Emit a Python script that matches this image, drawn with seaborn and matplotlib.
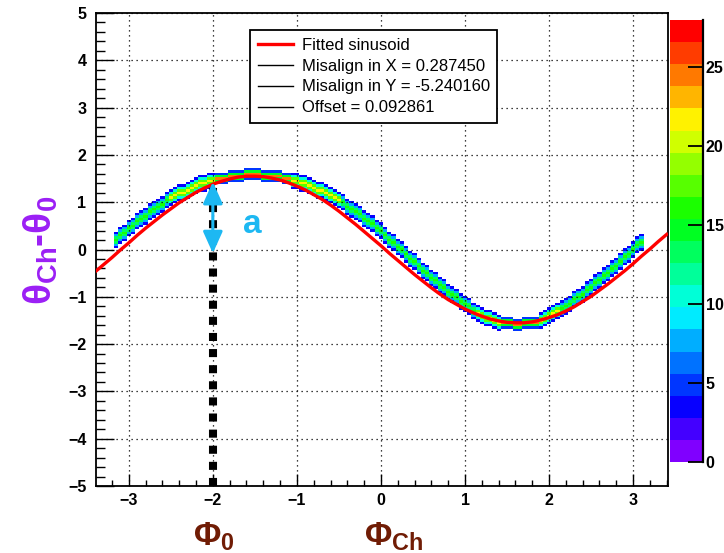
import numpy as np
import pandas as pd
import matplotlib
matplotlib.use("Agg")
import matplotlib.pyplot as plt
import seaborn as sns
from matplotlib.colors import ListedColormap, hsv_to_rgb
from matplotlib.lines import Line2D
from matplotlib.ticker import MultipleLocator

# ---------------- data ----------------
fit_x = [-3.4, -3.3, -3.2, -3.1, -3.0, -2.9, -2.8, -2.7, -2.6, -2.5, -2.4, -2.3,
         -2.2, -2.1, -2.0, -1.9, -1.8, -1.7, -1.6, -1.5, -1.4, -1.3, -1.2, -1.1,
         -1.0, -0.9, -0.8, -0.7, -0.6, -0.5, -0.4, -0.3, -0.2, -0.1, 0.0, 0.1,
         0.2, 0.3, 0.4, 0.5, 0.6, 0.7, 0.8, 0.9, 1.0, 1.1, 1.2, 1.3, 1.4, 1.5,
         1.6, 1.7, 1.8, 1.9, 2.0, 2.1, 2.2, 2.3, 2.4, 2.5, 2.6, 2.7, 2.8, 2.9,
         3.0, 3.1, 3.2, 3.3, 3.4]
fit_y = [-0.47, -0.32, -0.17, -0.01, 0.14, 0.30, 0.45, 0.59, 0.73, 0.86, 0.99, 1.10,
         1.21, 1.30, 1.38, 1.44, 1.49, 1.53, 1.55, 1.55, 1.54, 1.51, 1.47, 1.41,
         1.34, 1.26, 1.16, 1.06, 0.94, 0.81, 0.67, 0.53, 0.38, 0.23, 0.08, -0.08,
         -0.23, -0.38, -0.53, -0.67, -0.81, -0.94, -1.06, -1.16, -1.26, -1.34, -1.41, -1.47,
         -1.51, -1.54, -1.55, -1.55, -1.53, -1.49, -1.44, -1.38, -1.30, -1.21, -1.10, -0.99,
         -0.86, -0.73, -0.59, -0.45, -0.30, -0.14, 0.01, 0.17, 0.32]

# centre of the measured band, one value per 0.05-wide column starting at x = -3.15
band_start = -3.15
band_step = 0.05
band_y = [0.21, 0.29, 0.36, 0.44, 0.51, 0.59, 0.66, 0.72, 0.79, 0.85,
          0.91, 0.97, 1.03, 1.08, 1.13, 1.18, 1.22, 1.27, 1.31, 1.34,
          1.38, 1.41, 1.44, 1.46, 1.49, 1.51, 1.52, 1.54, 1.55, 1.56,
          1.57, 1.58, 1.58, 1.58, 1.58, 1.57, 1.57, 1.56, 1.54, 1.53,
          1.51, 1.49, 1.47, 1.44, 1.41, 1.38, 1.35, 1.31, 1.27, 1.23,
          1.19, 1.14, 1.09, 1.04, 0.98, 0.92, 0.86, 0.80, 0.73, 0.67,
          0.60, 0.53, 0.45, 0.38, 0.30, 0.22, 0.14, 0.06, -0.02, -0.10,
          -0.18, -0.26, -0.34, -0.43, -0.51, -0.58, -0.66, -0.74, -0.81, -0.88,
          -0.95, -1.02, -1.08, -1.14, -1.20, -1.28, -1.34, -1.39, -1.43, -1.47,
          -1.50, -1.53, -1.55, -1.56, -1.57, -1.58, -1.58, -1.57, -1.56, -1.55,
          -1.53, -1.50, -1.46, -1.42, -1.37, -1.32, -1.26, -1.19, -1.13, -1.07,
          -1.01, -0.94, -0.87, -0.80, -0.72, -0.65, -0.57, -0.49, -0.41, -0.33,
          -0.25, -0.17, -0.09, -0.01, 0.08, 0.16]
# counts across the band (0.05-high cells) where it is flat, medium and steep
profile_flat = [5, 15, 24, 15, 5]
profile_mid = [4, 10, 18, 22, 18, 10, 4]
profile_steep = [4, 8, 13, 16, 13, 8, 4]

legend_labels = ["Fitted sinusoid", "Misalign in X = 0.287450",
                 "Misalign in Y = -5.240160", "Offset = 0.092861"]
x_ticks = [-3, -2, -1, 0, 1, 2, 3]
y_ticks = [-5, -4, -3, -2, -1, 0, 1, 2, 3, 4, 5]
cbar_ticks = [0, 5, 10, 15, 20, 25]
count_max = 28
phi0 = -2.0
a_bottom = -0.08
a_top = 1.43

# ---------------- build histogram table ----------------
band_x = band_start + band_step * np.arange(len(band_y))
ybin = 0.05
slopes = np.abs(np.gradient(np.array(band_y), band_x))
rows = []
for bx, by, s in zip(band_x, band_y, slopes):
    prof = profile_flat if s < 0.5 else (profile_mid if s < 1.1 else profile_steep)
    h = len(prof) // 2
    c = int(round(by / ybin))
    for k, w in enumerate(prof):
        rows.append((bx, (c + k - h) * ybin, w))
df = pd.DataFrame(rows, columns=["phi", "theta", "w"])

xedges = band_start - band_step / 2 + band_step * np.arange(len(band_y) + 1)
yedges = -2.525 + ybin * np.arange(102)

# ---------------- style ----------------
plt.rcParams['font.family'] = ['Liberation Sans', 'DejaVu Sans']
plt.rcParams['mathtext.fontset'] = 'custom'
plt.rcParams['mathtext.rm'] = 'Liberation Sans'
plt.rcParams['mathtext.bf'] = 'Liberation Sans:bold'
plt.rcParams['mathtext.it'] = 'Liberation Sans:italic'
plt.rcParams['mathtext.sf'] = 'Liberation Sans'

hues = np.linspace(0.75, 0.0, 20)
colors = hsv_to_rgb(np.stack([hues, np.ones(20), np.ones(20)], axis=1))
cmap = ListedColormap(colors)

W, H = 724, 553
fig = plt.figure(figsize=(W / 100, H / 100), dpi=100)
ax = fig.add_axes([96 / W, 1 - 486 / H, (668 - 96) / W, (486 - 13) / H])
cax = fig.add_axes([670 / W, 1 - 462 / H, 33 / W, 442 / H])

sns.histplot(data=df, x="phi", y="theta", weights="w", bins=[xedges, yedges],
             cmap=cmap, vmin=0, vmax=count_max, cbar=True, cbar_ax=cax,
             cbar_kws={"ticks": cbar_ticks}, ax=ax, zorder=2)

sns.lineplot(x=fit_x, y=fit_y, color="red", lw=2.4, ax=ax, sort=False, zorder=4)

ax.set_xlim(-3.39, 3.415)
ax.set_ylim(-5, 5)
ax.set_xlabel("")
ax.set_ylabel("")
ax.set_xticks(x_ticks)
ax.set_yticks(y_ticks)
ax.xaxis.set_minor_locator(MultipleLocator(0.2))
ax.yaxis.set_minor_locator(MultipleLocator(0.2))
ax.tick_params(axis="x", which="major", direction="in", length=8.6, width=1.0,
               labelsize=11.5, pad=5, top=False)
ax.tick_params(axis="x", which="minor", direction="in", length=4.3, width=1.0, top=False)
ax.tick_params(axis="y", which="major", direction="in", length=13, width=1.0,
               labelsize=11.5, pad=7, right=False)
ax.tick_params(axis="y", which="minor", direction="in", length=6.5, width=1.0, right=False)
for lab in ax.get_xticklabels() + ax.get_yticklabels():
    lab.set_fontweight("bold")
for sp in ax.spines.values():
    sp.set_linewidth(1.3)
    sp.set_color("black")
ax.grid(True, which="major", color="black", lw=0.9, ls=(0, (1, 3)))
ax.set_axisbelow(False)

# colorbar styling
cb = ax.collections[0].colorbar
cb.outline.set_visible(False)
cax.tick_params(axis="y", direction="in", length=11, width=1.3, right=True,
                left=False, labelright=True, labelleft=False, labelsize=11.5, pad=2)
for lab in cax.get_yticklabels():
    lab.set_fontweight("bold")
cax.plot([1, 1], [0, 1], transform=cax.transAxes, color="black", lw=1.6, clip_on=False)

# phi0 marker, arrow and label
ax.plot([phi0, phi0], [-5, a_top], color="black", lw=5.8, ls=(0, (1, 1)),
        dash_capstyle="butt", zorder=5)
ax.annotate("", xy=(phi0, a_top), xytext=(phi0, a_bottom),
            arrowprops=dict(arrowstyle="<|-|>,head_length=0.6,head_width=0.27",
                            color="#1DB8F2", lw=2.2, mutation_scale=22,
                            shrinkA=0, shrinkB=0), zorder=6)
ax.text(-1.525, 0.345, "a", color="#1DB8F2", fontsize=24, fontweight="bold",
        ha="center", va="baseline", zorder=6)

# legend
handles = [Line2D([], [], color="red", lw=2.4)] + [Line2D([], [], color="black", lw=1.0)] * 3
leg = ax.legend(handles, legend_labels, loc="upper left",
                bbox_to_anchor=(250 / W, 1 - 30 / H), bbox_transform=fig.transFigure,
                frameon=True, fancybox=False, edgecolor="black", framealpha=1,
                fontsize=12, handlelength=2.1, handletextpad=0.55, borderpad=0.45,
                labelspacing=0.36, borderaxespad=0)
leg.get_frame().set_linewidth(1.3)
leg.set_zorder(10)

# axis titles
fig.text(41 / W, 1 - 250 / H, r"θ$_\mathbf{Ch}$-θ$_\mathbf{0}$", rotation=90,
         color="#9B1FF5", fontsize=28, fontweight="bold", ha="center", va="center")
ax.text(-2.24, -6.25, r"Φ$_\mathbf{0}$", color="#701C05", fontsize=24,
        fontweight="bold", ha="left", va="baseline", clip_on=False)
ax.text(-0.20, -6.25, r"Φ$_\mathbf{Ch}$", color="#701C05", fontsize=24,
        fontweight="bold", ha="left", va="baseline", clip_on=False)

fig.savefig("out.png", dpi=100)
